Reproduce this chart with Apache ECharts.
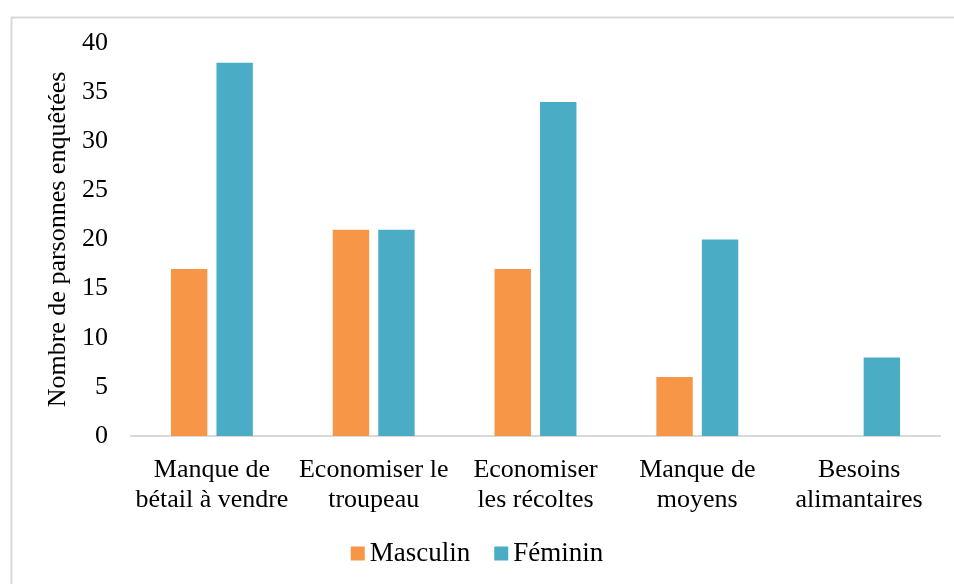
<!DOCTYPE html>
<html>
<head>
<meta charset="utf-8">
<script src="https://cdn.jsdelivr.net/npm/echarts@6/dist/echarts.min.js"></script>
<style>html,body{margin:0;padding:0;background:#fff}#c{width:954px;height:584px}</style>
</head>
<body>
<div id="c"></div>
<script>
var categories = ["Manque de\nbétail à vendre", "Economiser le\ntroupeau", "Economiser\nles récoltes", "Manque de\nmoyens", "Besoins\nalimantaires"];
var masculin = [17, 21, 17, 6, 0];
var feminin = [38, 21, 34, 20, 8];
var yTicks = [0, 5, 10, 15, 20, 25, 30, 35, 40];

var FONT = '"Liberation Serif", "Times New Roman", serif';
var chart = echarts.init(document.getElementById('c'), null, {renderer: 'canvas'});
chart.setOption({
  animation: false,
  backgroundColor: '#fff',
  graphic: [{
    type: 'rect', left: 9, top: 15, silent: true,
    shape: {width: 1000, height: 1000},
    style: {fill: 'none', stroke: '#d9d9d9', lineWidth: 2}
  }],
  grid: {left: 131, right: 14, top: 43, bottom: 148, containLabel: false},
  legend: {
    data: ['Masculin', 'Féminin'],
    top: 535, left: 'center',
    icon: 'rect', itemWidth: 14, itemHeight: 14, itemGap: 24,
    textStyle: {fontFamily: FONT, fontSize: 27, color: '#000'}
  },
  xAxis: {
    type: 'category', data: categories,
    axisLine: {lineStyle: {color: '#d9d9d9', width: 2}},
    axisTick: {show: false},
    axisLabel: {fontFamily: FONT, fontSize: 26, color: '#000', lineHeight: 30, margin: 19, interval: 0}
  },
  yAxis: {
    type: 'value', min: yTicks[0], max: yTicks[yTicks.length - 1], interval: 5,
    name: 'Nombre de parsonnes enquêtées', nameLocation: 'middle', nameGap: 56,
    nameTextStyle: {fontFamily: FONT, fontSize: 26, color: '#000'},
    axisLine: {show: false}, axisTick: {show: false}, splitLine: {show: false},
    axisLabel: {fontFamily: FONT, fontSize: 26, color: '#000', margin: 23}
  },
  series: [
    {name: 'Masculin', type: 'bar', data: masculin, barWidth: '22.5%', barGap: '25%',
     itemStyle: {color: '#F79646'}},
    {name: 'Féminin', type: 'bar', data: feminin, barWidth: '22.5%', barGap: '25%',
     itemStyle: {color: '#4BACC6'}}
  ]
});
</script>
</body>
</html>
